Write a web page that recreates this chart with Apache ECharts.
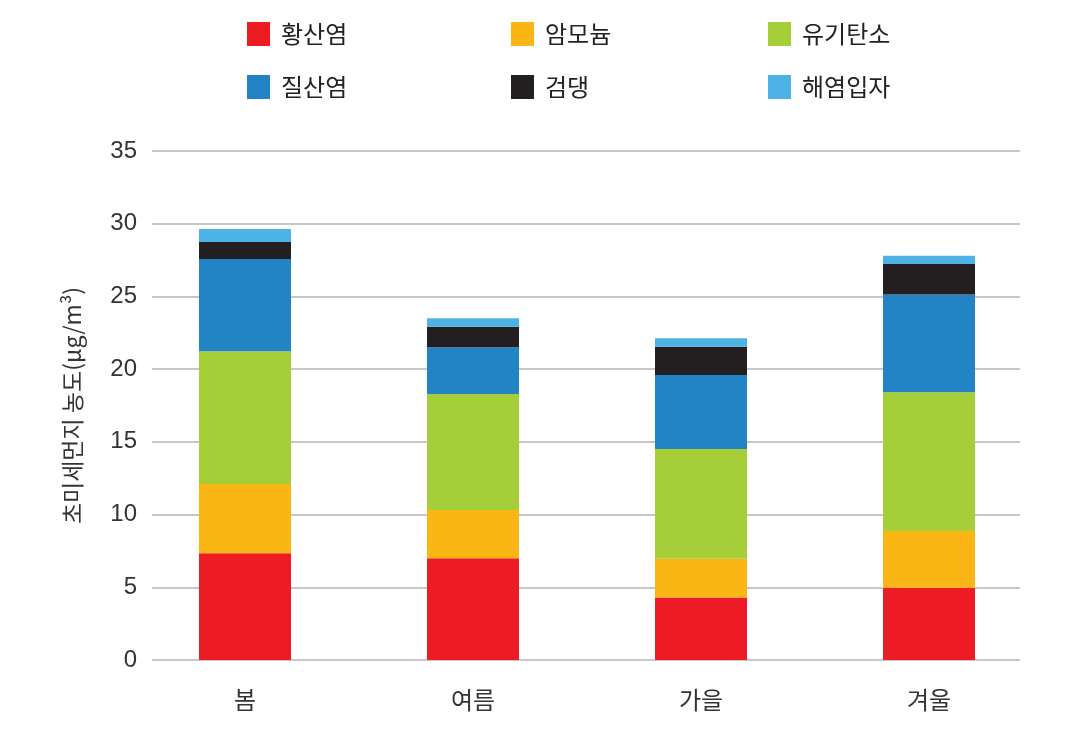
<!DOCTYPE html>
<html>
<head>
<meta charset="utf-8">
<script src="https://cdn.jsdelivr.net/npm/echarts@6/dist/echarts.min.js"></script>
<style>
  html, body { margin: 0; padding: 0; background: #fff; }
  #main { width: 1080px; height: 743px; }
</style>
</head>
<body>
<div id="main"></div>
<script>
// 계절별 초미세먼지 성분 농도
var seasons = ['봄', '여름', '가을', '겨울'];
var names = ['황산염', '암모늄', '유기탄소', '질산염', '검댕', '해염입자'];
var colors = ['#ed1c24', '#fbb615', '#a6ce39', '#2283c5', '#231f20', '#4db3e6'];

var sulfate  = [7.34, 6.99, 4.29, 4.97];
var ammonium = [4.76, 3.32, 2.68, 3.90];
var organic  = [9.13, 7.98, 7.54, 9.54];
var nitrate  = [6.34, 3.21, 5.09, 6.73];
var soot     = [1.17, 1.42, 1.94, 2.09];
var seaSalt  = [0.90, 0.58, 0.58, 0.57];

var yTicks = [0, 5, 10, 15, 20, 25, 30, 35];

var seriesData = [sulfate, ammonium, organic, nitrate, soot, seaSalt];

var myChart = echarts.init(document.getElementById('main'));

var legendPos = [
    {left: 247, top: 22}, {left: 511, top: 22}, {left: 768, top: 22},
    {left: 247, top: 75}, {left: 511, top: 75}, {left: 768, top: 75}
];
var legends = [];
for (var i = 0; i < names.length; i++) {
    legends.push({
        data: [names[i]],
        left: legendPos[i].left,
        top: legendPos[i].top,
        padding: 0,
        icon: 'rect',
        itemWidth: 23,
        itemHeight: 24,
        itemGap: 0,
        selectedMode: false,
        textStyle: {
            fontSize: 24,
            color: '#222',
            padding: [0, 0, 0, 6],
            fontFamily: 'Noto Sans CJK KR'
        }
    });
}

var series = [];
for (var i = 0; i < names.length; i++) {
    series.push({
        name: names[i],
        type: 'bar',
        stack: 'total',
        xAxisIndex: 1,
        yAxisIndex: 1,
        barWidth: 92,
        itemStyle: {color: colors[i]},
        data: seriesData[i]
    });
}

var option = {
    backgroundColor: '#fff',
    animation: false,
    textStyle: {fontFamily: 'Noto Sans CJK KR'},
    legend: legends,
    grid: [
        {left: 152, right: 60, top: 151, bottom: 83},
        {left: 131, right: 37, top: 151, bottom: 83}
    ],
    xAxis: [
        {
            type: 'value',
            gridIndex: 0,
            show: false
        },
        {
            type: 'category',
            gridIndex: 1,
            data: seasons,
            axisLine: {show: false},
            axisTick: {show: false},
            axisLabel: {
                fontSize: 24,
                color: '#333',
                margin: 28
            }
        }
    ],
    yAxis: [
        {
            type: 'value',
            gridIndex: 0,
            min: yTicks[0],
            max: yTicks[yTicks.length - 1],
            interval: 5,
            axisLine: {show: false},
            axisTick: {show: false},
            axisLabel: {
                fontSize: 24,
                color: '#333',
                margin: 15,
                fontFamily: 'Liberation Sans'
            },
            splitLine: {
                lineStyle: {color: '#b4b4b4', width: 1.5}
            },
            name: '초미세먼지 농도(μg/m³)',
            nameLocation: 'middle',
            nameGap: 68,
            nameTextStyle: {
                fontSize: 23,
                color: '#333'
            }
        },
        {
            type: 'value',
            gridIndex: 1,
            min: yTicks[0],
            max: yTicks[yTicks.length - 1],
            show: false,
            splitLine: {show: false}
        }
    ],
    series: series
};

myChart.setOption(option);

window.onresize = function () {
    myChart.resize();
};
</script>
</body>
</html>
